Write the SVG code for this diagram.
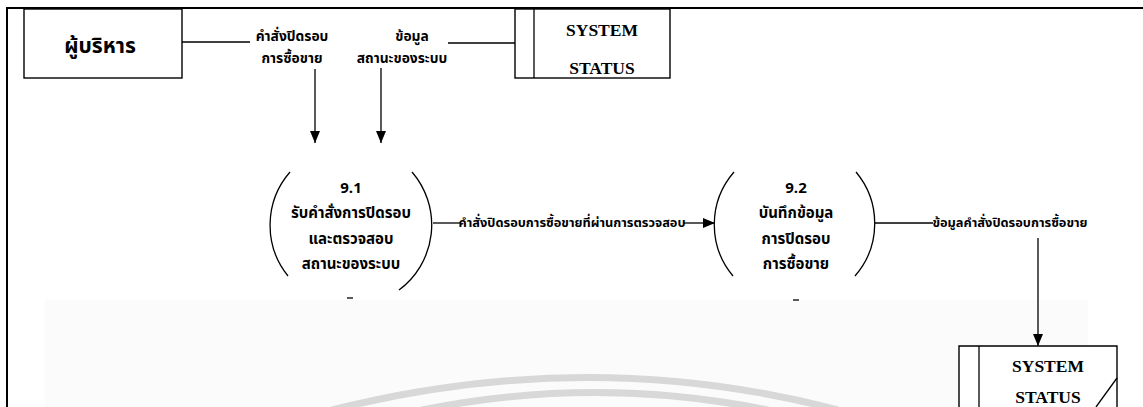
<svg xmlns="http://www.w3.org/2000/svg" width="1143" height="407" viewBox="0 0 1143 407">
  <defs>
    <marker id="arrow" viewBox="0 0 12 10" refX="12" refY="5" markerWidth="12" markerHeight="10" markerUnits="userSpaceOnUse" orient="auto">
      <path d="M0,0 L12,5 L0,10 Z" fill="#000"/>
    </marker>
    <style>
      .line { stroke: #000; stroke-width: 1.3; fill: none; }
      .box { stroke: #000; stroke-width: 1.4; fill: #fff; }
      .th { font-family: "Noto Sans Thai", "Noto Sans Thai UI", "Loma", "Garuda", "DejaVu Sans", sans-serif; font-weight: bold; fill: #000; text-anchor: middle; }
      .lbl { font-size: 12.8px; }
      .top { font-size: 13.8px; }
      .proc { font-size: 15px; }
      .store { font-family: "Liberation Serif", serif; font-weight: bold; font-size: 17.5px; fill: #000; text-anchor: middle; }
      .wm { stroke: #d8d8d8; stroke-width: 7; fill: none; }
    </style>
  </defs>

  <rect x="0" y="0" width="1143" height="407" fill="#fff"/>
  <!-- faint lower band -->
  <rect x="45" y="300" width="1043" height="107" fill="#fbfbfb"/>
  <!-- background seal arcs -->
  <path class="wm" d="M332,410 Q590,345 838,410"/>
  <path class="wm" d="M422,410 Q595,375 768,410"/>

  <!-- page frame -->
  <path d="M7,407 L7,8 L1143,8" stroke="#000" stroke-width="2" fill="none"/>

  <g id="external-executive">
    <rect class="box" x="24" y="9" width="158" height="69"/>
    <text class="th" x="100" y="53" font-size="21">ผู้บริหาร</text>
  </g>

  <g id="store-system-status-top">
    <rect class="box" x="515" y="9" width="155" height="69"/>
    <line class="line" x1="534" y1="9" x2="534" y2="78"/>
    <text class="store" x="602" y="36">SYSTEM</text>
    <text class="store" x="602" y="74">STATUS</text>
  </g>

  <g id="process-9-1">
    <path class="line" d="M290,172 A81,81 0 0 0 288,276"/>
    <path class="line" d="M412,172 A81,81 0 0 1 399,290"/>
    <text class="th proc" x="351" y="193">9.1</text>
    <text class="th proc" x="351" y="218">รับคำสั่งการปิดรอบ</text>
    <text class="th proc" x="351" y="244">และตรวจสอบ</text>
    <text class="th proc" x="351" y="269">สถานะของระบบ</text>
    <line class="line" x1="347" y1="298" x2="353" y2="298"/>
  </g>

  <g id="process-9-2">
    <path class="line" d="M734,172 A80,80 0 0 0 733,276"/>
    <path class="line" d="M856,172 A80,80 0 0 1 855,276"/>
    <text class="th proc" x="796" y="193">9.2</text>
    <text class="th proc" x="796" y="218">บันทึกข้อมูล</text>
    <text class="th proc" x="796" y="244">การปิดรอบ</text>
    <text class="th proc" x="796" y="269">การซื้อขาย</text>
    <line class="line" x1="793" y1="300" x2="799" y2="300"/>
  </g>

  <g id="store-system-status-bottom">
    <path class="box" d="M959,407 L959,346 L1117,346 L1117,407"/>
    <line class="line" x1="979" y1="346" x2="979" y2="407"/>
    <text class="store" x="1048" y="372">SYSTEM</text>
    <text class="store" x="1048" y="403">STATUS</text>
    <line class="line" x1="1117" y1="378" x2="1096" y2="407"/>
  </g>

  <g id="connectors">
    <!-- executive to process 9.1 -->
    <line class="line" x1="182" y1="42" x2="250" y2="42"/>
    <text class="th top" x="292" y="41">คำสั่งปิดรอบ</text>
    <text class="th top" x="292" y="63">การซื้อขาย</text>
    <line class="line" x1="315" y1="69" x2="315" y2="143" marker-end="url(#arrow)"/>

    <!-- system status to process 9.1 -->
    <line class="line" x1="448" y1="43" x2="515" y2="43"/>
    <text class="th top" x="412" y="41">ข้อมูล</text>
    <text class="th top" x="402" y="63">สถานะของระบบ</text>
    <line class="line" x1="381" y1="68" x2="381" y2="143" marker-end="url(#arrow)"/>

    <!-- process 9.1 to process 9.2 -->
    <line class="line" x1="433" y1="223" x2="460" y2="223"/>
    <text class="th lbl" x="572" y="227">คำสั่งปิดรอบการซื้อขายที่ผ่านการตรวจสอบ</text>
    <line class="line" x1="684" y1="223" x2="715" y2="223" marker-end="url(#arrow)"/>

    <!-- process 9.2 to system status -->
    <line class="line" x1="875" y1="223" x2="933" y2="223"/>
    <text class="th lbl" x="1010" y="227">ข้อมูลคำสั่งปิดรอบการซื้อขาย</text>
    <line class="line" x1="1038" y1="238" x2="1038" y2="346" marker-end="url(#arrow)"/>
  </g>
</svg>
